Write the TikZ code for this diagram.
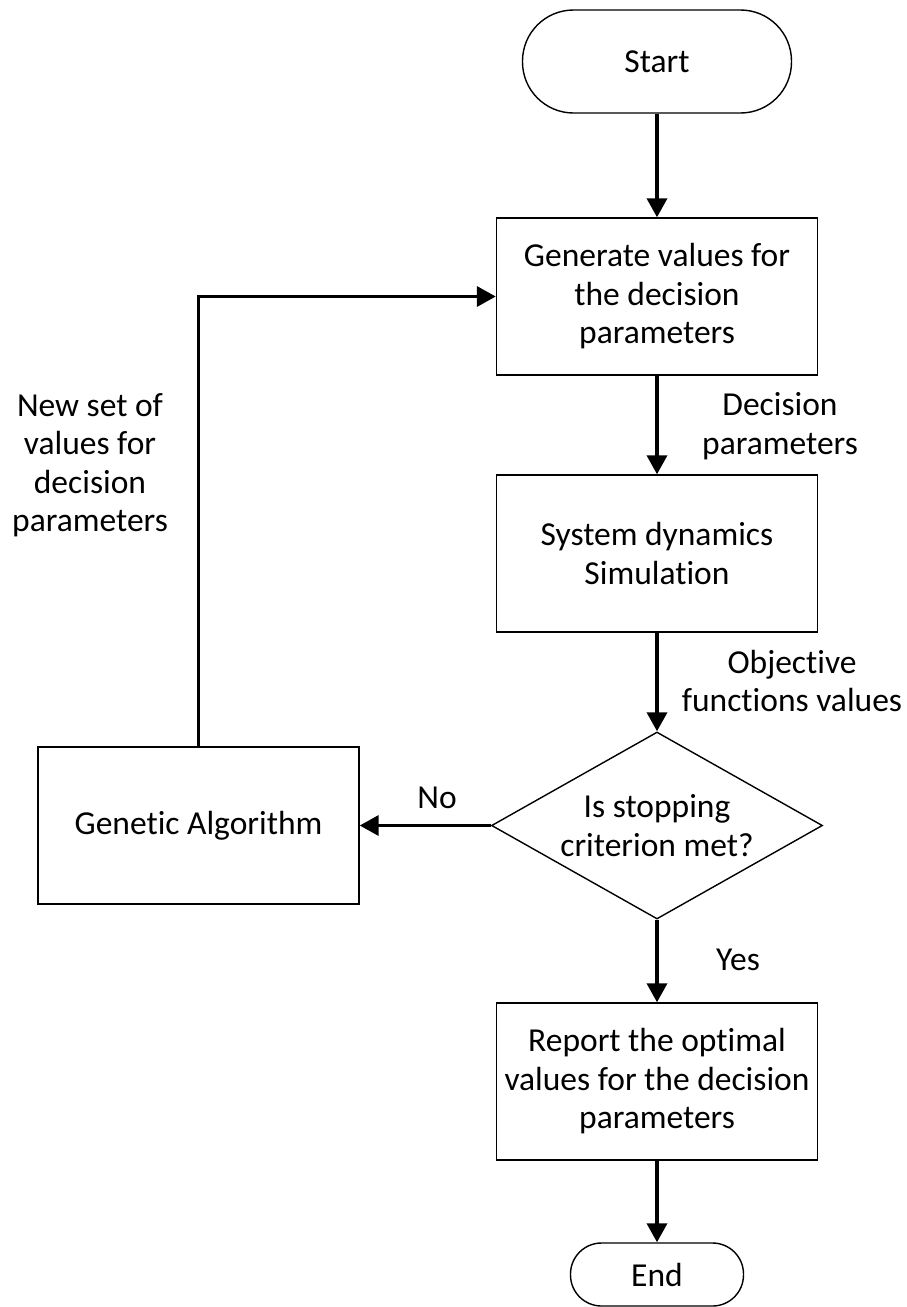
\documentclass[tikz,border=0pt]{standalone}
\usepackage{fontspec}
\setmainfont[Ligatures=NoCommon]{Carlito}
\usetikzlibrary{shapes.geometric,arrows.meta}
\begin{document}
\begin{tikzpicture}[x=1pt,y=-1pt,
  txt/.style={font=\fontsize{33.5pt}{38.5pt}\selectfont, align=center, inner sep=0pt, text=black},
  box/.style={txt, draw, line width=1.4pt, minimum width=321pt, minimum height=157pt},
  term/.style={txt, draw, line width=1.4pt},
  arr/.style={line width=3.6pt, -{Triangle[length=19pt,width=20pt]}}]
\fill[white] (0,0) rectangle (907,1307);
\useasboundingbox (0,0) rectangle (907,1307);

\node[term, minimum width=269pt, minimum height=103pt, rounded corners=51pt] (start) at (657,61.5) {Start};
\node[box] (gen) at (657,296.5) {Generate values for\\the decision\\parameters};
\node[box] (sim) at (657,553.5) {System dynamics\\Simulation};
\node[draw, diamond, line width=1.4pt, minimum width=331pt, minimum height=187pt, aspect=1.77, inner sep=0pt] (dec) at (657,825.5) {};
\node[txt] (dectxt) at (dec.center) {Is stopping\\criterion met?};
\node[box] (ga) at (198.5,825.5) {Genetic Algorithm};
\node[box] (rep) at (657,1081.5) {Report the optimal\\values for the decision\\parameters};
\node[term, minimum width=173pt, minimum height=63pt, rounded corners=31pt] (end) at (657,1274.5) {End};

\draw[arr] (start.south) -- (gen.north);
\draw[arr] (gen.south) -- (sim.north);
\draw[arr] (sim.south) -- (dec.north);
\draw[arr] (dec.south) -- (rep.north);
\draw[arr] (rep.south) -- (end.north);
\draw[arr] (dec.west) -- (ga.east);
\draw[arr] (ga.north) |- (gen.west);

\node[txt] (lbl1) at (780,426) {Decision\\parameters};
\node[txt] (lbl2) at (792,681) {Objective\\functions values};
\node[txt] (lbl3) at (90,465) {New set of\\values for\\decision\\parameters};
\node[txt] (lblno) at (437,798) {No};
\node[txt] (lblyes) at (738,960) {Yes};
\end{tikzpicture}
\end{document}
